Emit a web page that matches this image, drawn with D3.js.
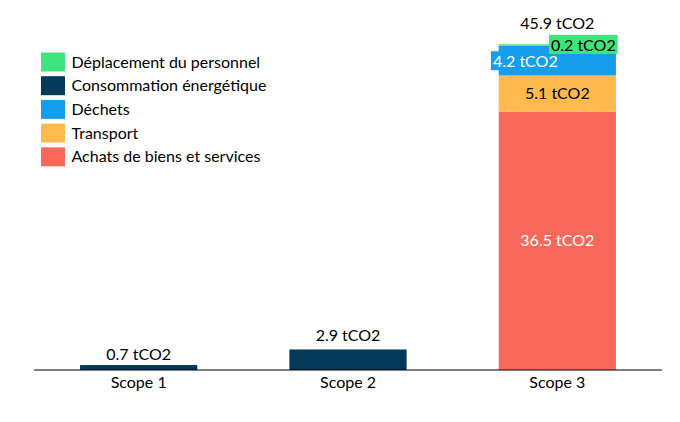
<!DOCTYPE html>
<html><head><meta charset="utf-8">
<script src="https://cdn.jsdelivr.net/npm/d3@7"></script>
<style>
html,body{margin:0;padding:0;background:#fff;}
text{font-family:Lato,"Open Sans",sans-serif;}
</style></head>
<body><svg id="c" width="680" height="422"></svg>
<script>
const scopes = ["Scope 1","Scope 2","Scope 3"];
const seriesNames = ["Achats de biens et services","Transport","Déchets","Consommation énergétique","Déplacement du personnel"];
const legendOrder = ["Déplacement du personnel","Consommation énergétique","Déchets","Transport","Achats de biens et services"];
const achats = [0,0,36.5];
const transport = [0,0,5.1];
const dechets = [0,0,4.2];
const conso = [0.7,2.9,0];
const deplacement = [0,0,0.2];
const totalLabels = ["0.7 tCO2","2.9 tCO2","45.9 tCO2"];
const colors = {"Achats de biens et services":"#f8695b","Transport":"#ffb94d","Déchets":"#149fee","Consommation énergétique":"#023a58","Déplacement du personnel":"#3de57b"};

const values = {"Achats de biens et services":achats,"Transport":transport,"Déchets":dechets,"Consommation énergétique":conso,"Déplacement du personnel":deplacement};
const table = scopes.map((s,i)=>{const o={scope:s};seriesNames.forEach(n=>o[n]=values[n][i]);return o;});

const FS = 16;
const svg = d3.select("#c");
const x = d3.scaleBand().domain(scopes).range([34,662]).paddingInner(0.44).paddingOuter(0.22);
const y = d3.scaleLinear().domain([0,46]).range([370,44.3]);

const stack = d3.stack().keys(seriesNames)(table);

const g = svg.append("g");
stack.forEach(layer=>{
  g.selectAll(null).data(layer.filter(d=>d[1]-d[0]>0)).enter().append("rect")
    .attr("x",d=>x(d.data.scope)).attr("width",x.bandwidth())
    .attr("y",d=>y(d[1])).attr("height",d=>y(d[0])-y(d[1]))
    .attr("fill",colors[layer.key]);
});

// axis
const ax = svg.append("g").attr("transform","translate(0,370)").call(d3.axisBottom(x).tickSize(0).tickPadding(7));
ax.select(".domain").attr("stroke","#000").attr("stroke-width",1.2).attr("d","M34,0H662");
ax.selectAll("text").attr("font-size",FS).attr("fill","#000").style("font-family","Lato,'Open Sans',sans-serif");

// segment labels for scope 3
const s3 = "Scope 3";
const cx = x(s3)+x.bandwidth()/2;
function seg(key){ return stack.find(l=>l.key===key)[2]; }
const a = seg("Achats de biens et services");
svg.append("text").attr("x",cx).attr("y",(y(a[0])+y(a[1]))/2).attr("dy","0.35em").attr("text-anchor","middle")
  .attr("font-size",FS).attr("fill","#fff").text(achats[2].toFixed(1)+" tCO2");
const t = seg("Transport");
svg.append("text").attr("x",cx).attr("y",(y(t[0])+y(t[1]))/2).attr("dy","0.35em").attr("text-anchor","middle")
  .attr("font-size",FS).attr("fill","#000").text(transport[2].toFixed(1)+" tCO2");

function boxLabel(xc,yc,txt,bg,fg){
  const gg = svg.append("g");
  const tx = gg.append("text").attr("x",xc).attr("y",yc).attr("dy","0.35em").attr("text-anchor","middle")
    .attr("font-size",FS).attr("fill",fg).text(txt);
  const bb = tx.node().getBBox();
  gg.insert("rect","text").attr("x",bb.x-2).attr("y",bb.y).attr("width",bb.width+4).attr("height",bb.height).attr("fill",bg);
}
const dc = seg("Déchets");
boxLabel(cx-32,(y(dc[0])+y(dc[1]))/2+1,dechets[2].toFixed(1)+" tCO2",colors["Déchets"],"#fff");
const dp = seg("Déplacement du personnel");
boxLabel(cx+26,y(dp[1])+1,deplacement[2].toFixed(1)+" tCO2",colors["Déplacement du personnel"],"#000");

// total labels
const offs = [11,14,21];
scopes.forEach((s,i)=>{
  const tot = d3.sum(seriesNames,n=>values[n][i]);
  svg.append("text").attr("x",x(s)+x.bandwidth()/2).attr("y",y(tot)-offs[i]).attr("dy","0.35em").attr("text-anchor","middle")
    .attr("font-size",FS).attr("fill","#000").text(totalLabels[i]);
});

// legend
const lg = svg.append("g");
legendOrder.forEach((n,i)=>{
  const yy = 62 + i*23.7;
  lg.append("rect").attr("x",41).attr("y",yy-9.5).attr("width",24).attr("height",19).attr("fill",colors[n]);
  lg.append("text").attr("x",71.5).attr("y",yy).attr("dy","0.35em").attr("font-size",FS).attr("fill","#000").text(n);
});
</script></body></html>
